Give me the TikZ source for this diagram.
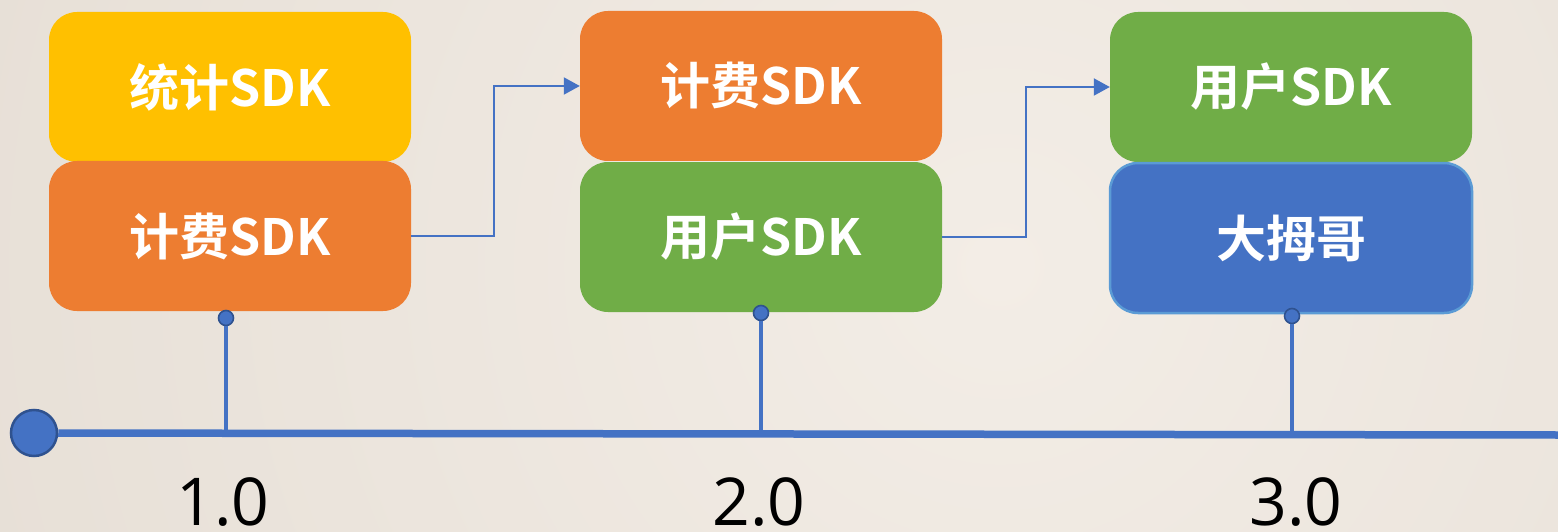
\documentclass[tikz,border=0pt]{standalone}
\usepackage{fontspec}
\usetikzlibrary{arrows.meta}
\newfontfamily\cjk{Noto Sans CJK SC}[UprightFont=* Bold]
\newfontfamily\numfont{Open Sans}

\definecolor{bgin}{HTML}{F3EDE6}
\definecolor{bgout}{HTML}{D9D0C5}
\definecolor{cyellow}{HTML}{FFC000}
\definecolor{corange}{HTML}{ED7D31}
\definecolor{cgreen}{HTML}{70AD47}
\definecolor{cblue}{HTML}{4472C4}
\definecolor{cblueedge}{HTML}{5B9BD5}
\definecolor{cdark}{HTML}{2F528F}

\pgfdeclareradialshading{bgglow}{\pgfpoint{0bp}{0bp}}{color(0bp)=(bgin); color(50bp)=(bgout)}

\tikzset{
  card/.style={rounded corners=28pt, minimum width=362pt, minimum height=150pt,
    inner sep=0pt, text=white, font=\cjk\fontsize{50}{56}\selectfont},
  yellowcard/.style={card, fill=cyellow},
  orangecard/.style={card, fill=corange},
  greencard/.style={card, fill=cgreen},
  bluecard/.style={card, fill=cblue, draw=cblueedge, line width=2.5pt},
  pin/.style={circle, minimum size=15pt, inner sep=0pt, fill=cblue, draw=cdark, line width=1.6pt},
  origindot/.style={circle, minimum size=46pt, inner sep=0pt, fill=cblue, draw=cdark, line width=2.5pt},
  stem/.style={draw=cblue, line width=3.5pt},
  axis/.style={draw=cblue, line width=7.5pt},
  flow/.style={draw=cblue, line width=2pt, -{Triangle[length=16pt,width=17pt]}},
  version/.style={anchor=base, inner sep=0pt, font=\numfont\fontsize{66}{70}\selectfont, text=black}
}

\begin{document}
\begin{tikzpicture}[x=1pt, y=-1pt]
  \useasboundingbox (0,0) rectangle (1558,532);

  % backdrop with a soft glow
  \fill[bgout] (0,0) rectangle (1558,532);
  \begin{scope}
    \clip (0,0) rectangle (1558,532);
    \shade[shading=bgglow] (1000,266) circle (1150pt);
  \end{scope}

  % version 1.0
  \node[yellowcard] (stat1) at (230,87) {统计SDK};
  \node[orangecard] (fee1)  at (230,236) {计费SDK};
  % version 2.0
  \node[orangecard] (fee2)  at (761,86) {计费SDK};
  \node[greencard]  (user2) at (761,237) {用户SDK};
  % version 3.0
  \node[greencard]  (user3) at (1291,87) {用户SDK};
  \node[bluecard]   (dmg3)  at (1291,238) {大拇哥};

  % carry-over arrows
  \draw[flow] (fee1.east) -- ([xshift=83pt]fee1.east) |- (fee2.west);
  \draw[flow] (user2.east) -- ([xshift=84pt]user2.east) |- (user3.west);

  % timeline
  \node[origindot] (origin) at (34,433) {};
  \coordinate (tend) at (1558,435);
  \draw[axis] (origin) -- (tend);

  % pins and stems
  \node[pin] (p1) at (226,318) {};
  \node[pin] (p2) at (761,313) {};
  \node[pin] (p3) at (1292,316) {};
  \draw[stem] (p1.south) -- (p1 |- origin);
  \draw[stem] (p2.south) -- (p2 |- origin);
  \draw[stem] (p3.south) -- (p3 |- origin);

  % version labels
  \node[version] (v1) at (223,525) {1.0};
  \node[version] (v2) at (759,525) {2.0};
  \node[version] (v3) at (1296,525) {3.0};
\end{tikzpicture}
\end{document}
